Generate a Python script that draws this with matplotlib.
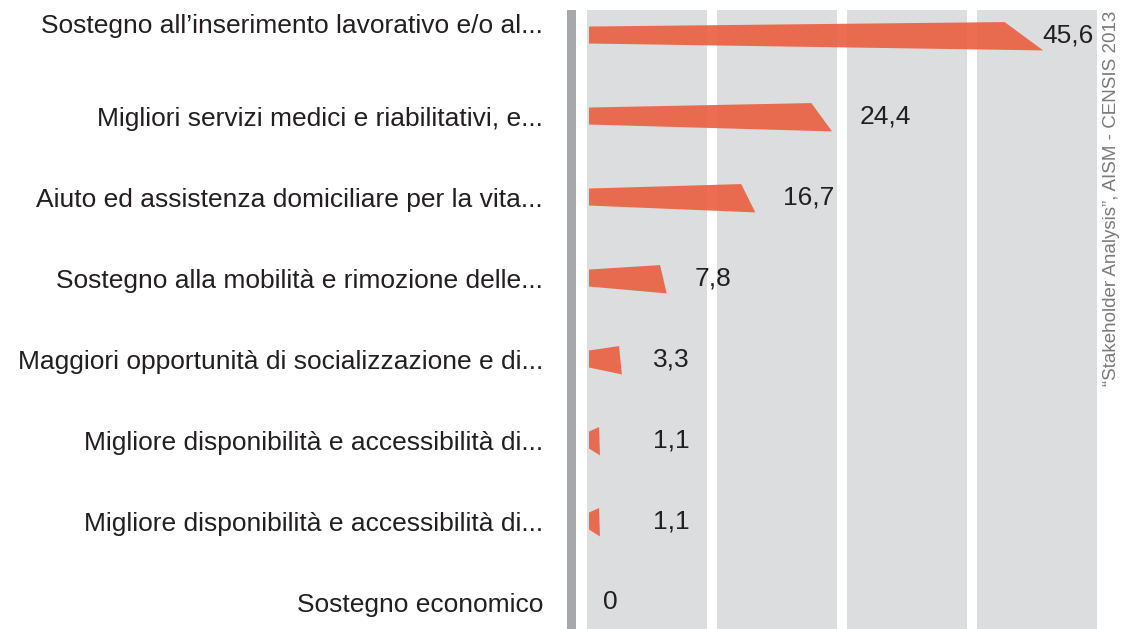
import matplotlib
matplotlib.use("Agg")
import matplotlib.pyplot as plt
from matplotlib.patches import Rectangle, Polygon
from matplotlib.transforms import ScaledTranslation

categories = [
    "Sostegno all\u2019inserimento lavorativo e/o al...",
    "Migliori servizi medici e riabilitativi, e...",
    "Aiuto ed assistenza domiciliare per la vita...",
    "Sostegno alla mobilit\u00e0 e rimozione delle...",
    "Maggiori opportunit\u00e0 di socializzazione e di...",
    "Migliore disponibilit\u00e0 e accessibilit\u00e0 di...",
    "Migliore disponibilit\u00e0 e accessibilit\u00e0 di...",
    "Sostegno economico",
]
values = [45.6, 24.4, 16.7, 7.8, 3.3, 1.1, 1.1, 0]
value_labels = ["45,6", "24,4", "16,7", "7,8", "3,3", "1,1", "1,1", "0"]
source = "\u201cStakeholder Analysis\u201d, AISM - CENSIS 2013"

W, H = 1133, 629
plt.rcParams['font.family'] = ['Liberation Sans', 'DejaVu Sans']
fig = plt.figure(figsize=(W / 100, H / 100), dpi=100)
fig.patch.set_facecolor('white')

ax = fig.add_axes([587 / W, 0, 510 / W, 619 / H])
ax.set_xlim(-0.2, 51.0)
ax.set_ylim(7.333, -0.309)
ax.set_facecolor('white')
for s in ax.spines.values():
    s.set_visible(False)
ax.tick_params(axis='x', bottom=False, labelbottom=False)
ax.tick_params(axis='y', left=False, pad=28.1, labelsize=19, labelcolor='#231F20')

# gray columns
for k in range(4):
    ax.add_patch(Rectangle((k * 130 / 510, 0), 120 / 510, 1, transform=ax.transAxes,
                           facecolor='#DCDDDF', edgecolor='none', zorder=0))

bar_color = '#EB6244'
for i, v in enumerate(values):
    if v > 0:
        pts = [(0, i - 0.105), (v * 0.915, i - 0.16), (v, i + 0.19), (0, i + 0.105)]
        ax.add_patch(Polygon(pts, closed=True, facecolor=bar_color, edgecolor='none',
                             alpha=0.93, zorder=2))
        lx = min(max(v + 2.8, 6.4), 45.5)
    else:
        lx = v + 1.4
    ax.text(lx, i, value_labels[i], ha='left', va='center', fontsize=19,
            color='#231F20', zorder=3)

ax.set_yticks(range(len(categories)))
ax.set_yticklabels(categories)
# first label sits slightly higher in the reference
first = ax.get_yticklabels()[0]
first.set_transform(first.get_transform() + ScaledTranslation(0, 0.12, fig.dpi_scale_trans))

# left dark bar
fig.add_artist(Rectangle((567 / W, 0), 9 / W, 619 / H, transform=fig.transFigure,
                         facecolor='#A7A8AB', edgecolor='none'))

fig.text(1112 / W, 1 - 198 / H, source, rotation=90, ha='center', va='center',
         fontsize=13.5, color='#7A7A7C')

fig.savefig('out.png', dpi=100)
